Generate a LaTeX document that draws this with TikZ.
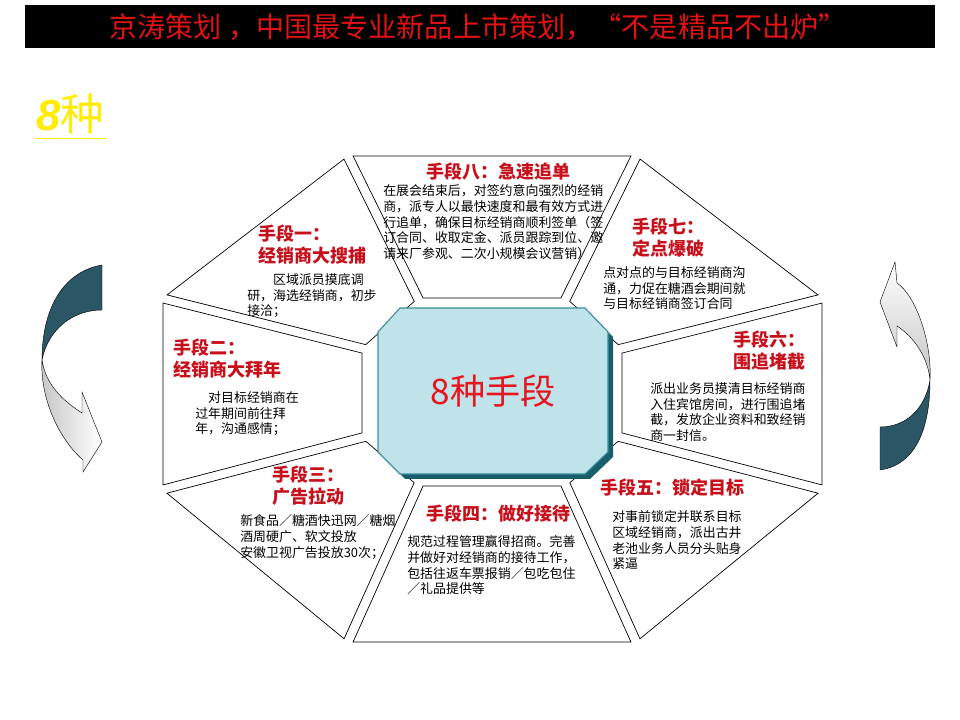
\documentclass[tikz,border=0pt]{standalone}
\usepackage{fontspec}
\setmainfont{Noto Sans CJK SC}
\newfontfamily\latinsans{Liberation Sans}
\usetikzlibrary{calc}
\definecolor{hdrred}{RGB}{226,18,18}
\definecolor{ttlred}{RGB}{200,16,28}
\definecolor{hubred}{RGB}{232,20,30}
\definecolor{kindyellow}{RGB}{255,236,0}
\definecolor{bandteal}{RGB}{42,86,102}
\definecolor{hubfill}{RGB}{192,226,233}
\definecolor{hubedge}{RGB}{62,140,156}
\definecolor{hubshadow}{RGB}{24,94,108}

\begin{document}
\begin{tikzpicture}[x=0.025cm,y=-0.025cm,
  seg/.style={draw=black,line width=0.5pt,fill=white},
  ttl/.style={text=ttlred,font=\fontsize{12.8}{15.6}\selectfont\bfseries,inner sep=0pt,align=left},
  body/.style={font=\fontsize{9.2}{11.3}\selectfont,inner sep=0pt,align=left},
  band/.style={draw=black,line width=0.3pt}]
\fill[white] (0,0) rectangle (960,720);
\useasboundingbox (0,0) rectangle (960,720);
% ================ 标题栏 ================
\fill[black] (25,5) rectangle (935,48);
\node[text=hdrred,font=\fontsize{20}{24}\selectfont] (hdr) at (478,27)
  {京涛策划 ，中国最专业新品上市策划，“不是精品不出炉”};
\node[text=kindyellow,font=\fontsize{31}{34}\selectfont,anchor=south west,inner sep=0pt] (kind) at (36,134)
  {{\latinsans\bfseries\itshape 8}种};
\draw[kindyellow,line width=0.7pt] ([yshift=-3pt,xshift=-1pt]kind.south west) -- ([yshift=-3pt,xshift=2pt]kind.south east);
% ================ 八边形环：外顶点 o、内顶点 i ================
\coordinate (o1) at (348,156); \coordinate (o2) at (636,156);
\coordinate (o3) at (822,298); \coordinate (o4) at (822,490);
\coordinate (o5) at (636,642); \coordinate (o6) at (348,642);
\coordinate (o7) at (163,490); \coordinate (o8) at (163,298);
\coordinate (i1) at (418,298); \coordinate (i2) at (566,298);
\coordinate (i3) at (622,348); \coordinate (i4) at (622,438);
\coordinate (i5) at (566,486); \coordinate (i6) at (418,486);
\coordinate (i7) at (362,438); \coordinate (i8) at (362,348);
\foreach \a/\b in {1/2,2/3,3/4,4/5,5/6,6/7,7/8,8/1}{
  \draw[seg] ($(o\a)!3.6pt!(o\b)$) -- ($(o\b)!3.6pt!(o\a)$)
    -- ($(i\b)!3.6pt!(i\a)$) -- ($(i\a)!3.6pt!(i\b)$) -- cycle;}
% 中心：8种手段
\fill[hubshadow,shift={(5,5)}] (400,308) -- (585,308) -- (608,332) -- (608,452)
  -- (585,474) -- (400,474) -- (378,452) -- (378,332) -- cycle;
\draw[hubedge,fill=hubfill,line width=0.8pt] (400,308) -- (585,308) -- (608,332) -- (608,452)
  -- (585,474) -- (400,474) -- (378,452) -- (378,332) -- cycle;
\node[text=hubred,font=\fontsize{25}{28}\selectfont] (hub) at (493,391) {8种手段};
% ================ 各段文字 ================
% 手段八（上）
\node[ttl] (t8) at (498,172) {手段八：急速追单};
\node[body,anchor=north west] (b8) at (383,184)
  {在展会结束后，对签约意向强烈的经销\\商，派专人以最快速度和最有效方式进\\
   行追单，确保目标经销商顺利签单（签\\订合同、收取定金、派员跟踪到位、邀\\
   请来厂参观、二次小规模会议营销）};
% 手段一（左上）
\node[ttl,anchor=north west] (t1) at (258,225) {手段一：\\经销商大搜捕};
\node[body,anchor=north west] (b1) at (247,273)
  {\hspace*{2em}区域派员摸底调\\研，海选经销商，初步\\接洽；};
% 手段七（右上）
\node[ttl,anchor=north west] (t7) at (632,218) {手段七：\\定点爆破};
\node[body,anchor=north west] (b7) at (603,266)
  {点对点的与目标经销商沟\\通，力促在糖酒会期间就\\与目标经销商签订合同};
% 手段二（左）
\node[ttl,anchor=north west] (t2) at (173,339) {手段二：\\经销商大拜年};
\node[body,anchor=north west] (b2) at (195,391)
  {\hspace*{1em}对目标经销商在\\过年期间前往拜\\年，沟通感情；};
% 手段六（右）
\node[ttl,anchor=north east,align=right] (t6) at (806,331) {手段六：\\围追堵截};
\node[body,anchor=north west] (b6) at (650,382)
  {派出业务员摸清目标经销商\\入住宾馆房间，进行围追堵\\截，发放企业资料和致经销\\商一封信。};
% 手段三（左下）
\node[ttl,anchor=north west] (t3) at (272,466) {手段三：\\广告拉动};
\node[body,anchor=north west] (b3) at (240,514)
  {新食品／糖酒快迅网／糖烟\\酒周硬广、软文投放\\安徽卫视广告投放30次；};
% 手段四（下）
\node[ttl] (t4) at (498,514) {手段四：做好接待};
\node[body,anchor=north west] (b4) at (407,535)
  {规范过程管理赢得招商。完善\\并做好对经销商的接待工作，\\包括往返车票报销／包吃包住\\／礼品提供等};
% 手段五（右下）
\node[ttl] (t5) at (672,488) {手段五：锁定目标};
\node[body,anchor=north west] (b5) at (612,510)
  {对事前锁定并联系目标\\区域经销商，派出古井\\老池业务人员分头贴身\\紧逼};
% ================ 两侧弯箭头 ================
% 左：向下
\fill[bandteal] (102,265) .. controls (62,272) and (42,310) .. (42,360)
  .. controls (48,330) and (72,310) .. (102,310) -- cycle;
\draw[band] (102,265) .. controls (62,272) and (42,310) .. (42,360)
  .. controls (48,330) and (72,310) .. (102,310) -- cycle;
\draw[band,left color=gray!45,right color=white] (42,360) .. controls (40,400) and (60,440) .. (83,460)
  -- (83,472) -- (102,442) -- (82,392) -- (82,413) .. controls (62,400) and (46,385) .. (42,360) -- cycle;
% 右：向上
\fill[bandteal] (880,470) .. controls (915,465) and (930,430) .. (930,380)
  .. controls (925,410) and (905,427) .. (880,427) -- cycle;
\draw[band] (880,470) .. controls (915,465) and (930,430) .. (930,380)
  .. controls (925,410) and (905,427) .. (880,427) -- cycle;
\draw[band,top color=white,bottom color=gray!45] (930,380) .. controls (932,340) and (915,295) .. (897,283)
  -- (895,262) -- (880,302) -- (897,347) -- (897,326) .. controls (915,338) and (928,358) .. (930,380) -- cycle;
\end{tikzpicture}
\end{document}
